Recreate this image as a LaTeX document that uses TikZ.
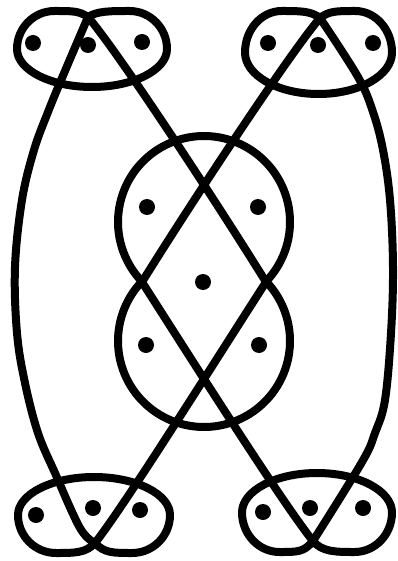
\documentclass[tikz,border=0pt]{standalone}
\newcommand\lobeloop[6]{% cx cy rx ry px py
  \draw[ln] (#5,#6) .. controls ({#5+0.12*(#3)},{#2-(#4)}) and ({#1+0.25*(#3)},{#2-(#4)}) .. ({#1+0.5*(#3)},{#2-(#4)})
   .. controls ({#1+0.776*(#3)},{#2-(#4)}) and ({#1+(#3)},{#2-0.552*(#4)}) .. ({#1+(#3)},#2)
   .. controls ({#1+(#3)},{#2+0.552*(#4)}) and ({#1+0.552*(#3)},{#2+(#4)}) .. (#1,{#2+(#4)})
   .. controls ({#1-0.552*(#3)},{#2+(#4)}) and ({#1-(#3)},{#2+0.552*(#4)}) .. ({#1-(#3)},#2)
   .. controls ({#1-(#3)},{#2-0.552*(#4)}) and ({#1-0.776*(#3)},{#2-(#4)}) .. ({#1-0.5*(#3)},{#2-(#4)})
   .. controls ({#1-0.25*(#3)},{#2-(#4)}) and ({#5-0.12*(#3)},{#2-(#4)}) .. (#5,#6);
}
\begin{document}
\begin{tikzpicture}[x=1pt,y=-1pt,
  ln/.style={line width=8pt,line cap=round,line join=round},
  dot/.style={circle,fill,inner sep=0pt,minimum size=16pt}]
\useasboundingbox (0,0) rectangle (398,561);
% crossing points of the four loops and waist of the figure eight
\coordinate (pTL) at (88,17);
\coordinate (pTR) at (320,18);
\coordinate (pBL) at (95,543);
\coordinate (pBR) at (313,541);
\coordinate (wL) at (142,282);
\coordinate (wR) at (266,282);
% figure eight in the middle
\draw[ln] plot[domain=135.94:404.06,samples=90] ({204+86*cos(\x)},{222+86*sin(\x)});
\draw[ln] plot[domain=-43.6:223.6,samples=90] ({204+86*cos(\x)},{341+86*sin(\x)});
% diagonals
\draw[ln] (pTL) .. controls (118,52) and (215,200) .. (wR);
\draw[ln] (pTR) .. controls (290,53) and (193,200) .. (wL);
\draw[ln] (pBL) .. controls (125,505) and (217,358) .. (wR);
\draw[ln] (pBR) .. controls (283,504) and (190,357) .. (wL);
% long side arcs
\draw[ln] plot[smooth,tension=0.6] coordinates {(pTL) (62,78) (48,112) (34,150) (22,200) (15,267) (17,333) (25,383) (38,433) (55,473) (80,528) (pBL)};
\draw[ln] plot[smooth,tension=0.6] coordinates {(pTR) (358,77) (373,112) (383,150) (390,200) (393,267) (391,333) (385,400) (375,433) (362,462) (pBR)};
% the four loops
\lobeloop{92}{49}{75}{38}{88}{17}
\lobeloop{318.5}{52.5}{73.5}{41.5}{320}{18}
\lobeloop{94}{515}{76}{-38}{95}{543}
\lobeloop{317}{512.5}{75}{-39.5}{313}{541}
% dots
\node[dot] (tl1) at (33,43) {};
\node[dot] (tl2) at (88,45) {};
\node[dot] (tl3) at (142,42) {};
\node[dot] (tr1) at (268,43) {};
\node[dot] (tr2) at (318,45) {};
\node[dot] (tr3) at (373,43) {};
\node[dot] (bl1) at (36,515) {};
\node[dot] (bl2) at (93,508) {};
\node[dot] (bl3) at (140,510) {};
\node[dot] (br1) at (263,512) {};
\node[dot] (br2) at (310,508) {};
\node[dot] (br3) at (363,508) {};
\node[dot] (c1) at (147,207) {};
\node[dot] (c2) at (258,207) {};
\node[dot] (c3) at (203,282) {};
\node[dot] (c4) at (146,345) {};
\node[dot] (c5) at (259,345) {};
\end{tikzpicture}
\end{document}
